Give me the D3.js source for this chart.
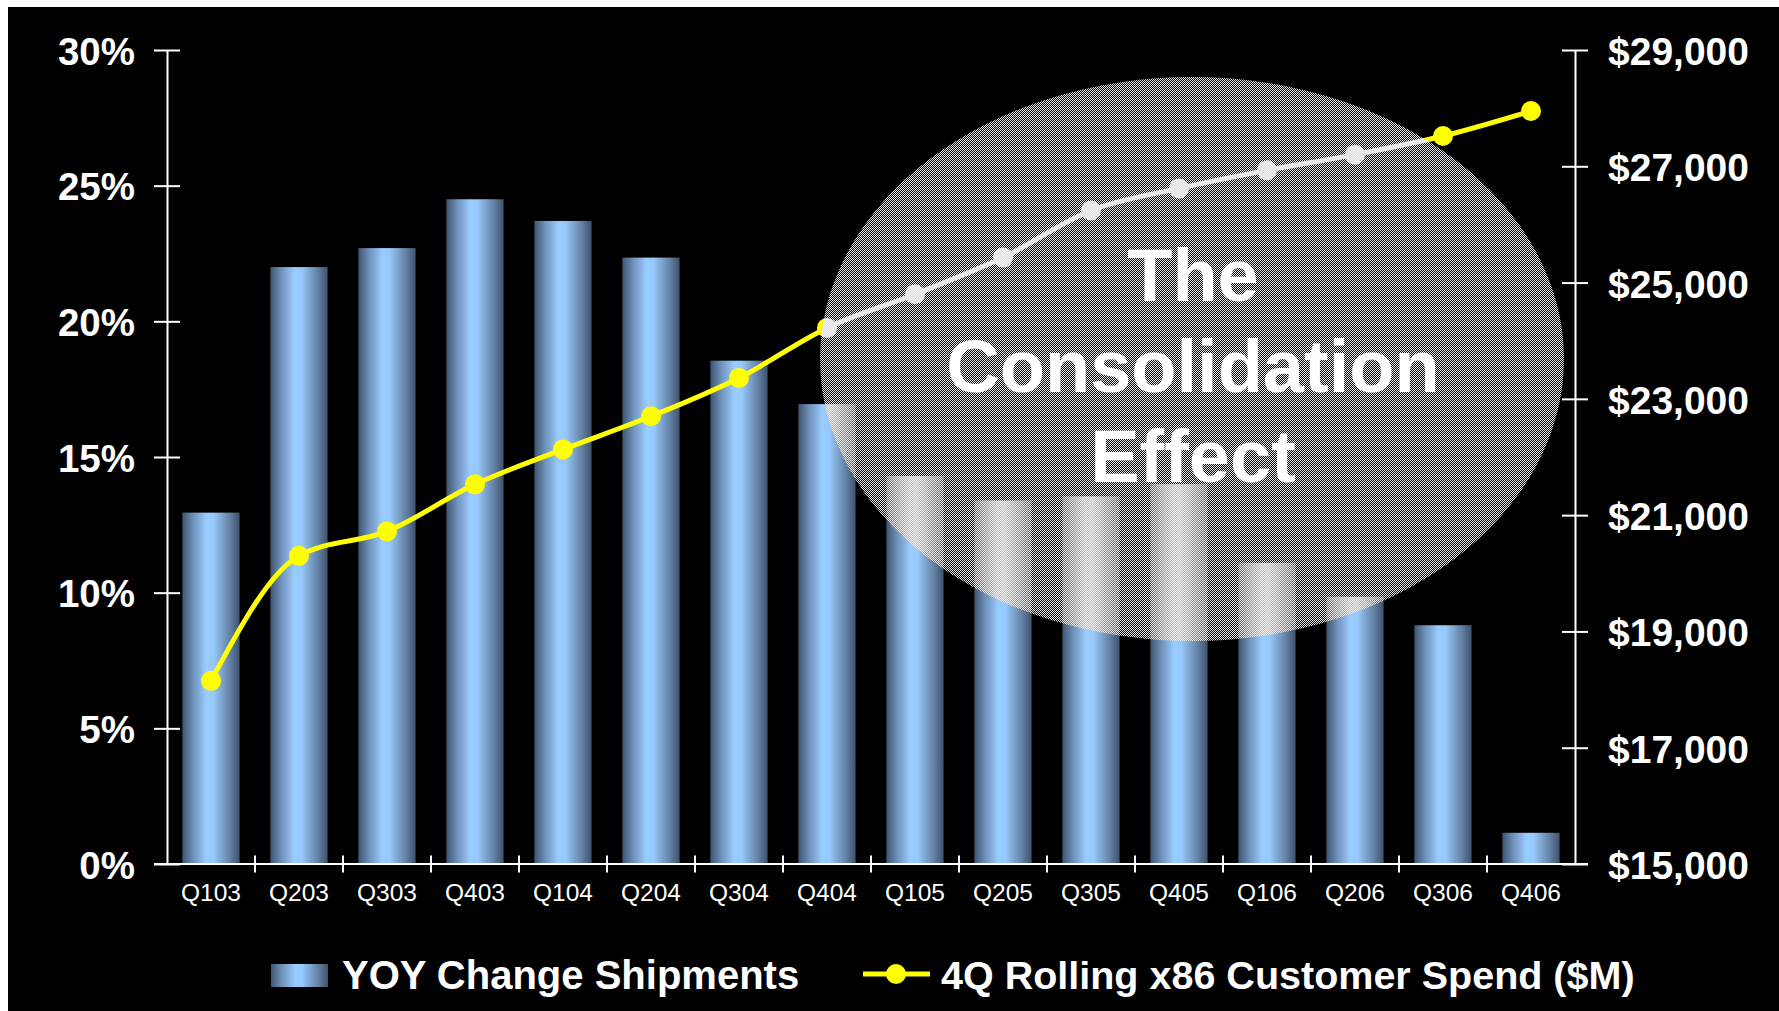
<!DOCTYPE html>
<meta charset="utf-8">
<title>The Consolidation Effect</title>
<script src="https://d3js.org/d3.v7.min.js"></script>
<style>
    body { margin: 0; background: #fff; }
    text { font-family: Arial, "Liberation Sans", sans-serif; fill: #fff; }
</style>
<body>
    <svg id="container" width="1779" height="1011"></svg>
</body>
<script>
    // quarters on the x axis
    let quarters = ["Q103", "Q203", "Q303", "Q403", "Q104", "Q204", "Q304", "Q404",
                    "Q105", "Q205", "Q305", "Q405", "Q106", "Q206", "Q306", "Q406"]

    // YOY change in shipments (%)
    let yoyShipments = [12.95, 22.0, 22.7, 24.5, 23.7, 22.35, 18.55, 16.95,
                        14.3, 13.4, 13.55, 14.0, 11.1, 9.85, 8.8, 1.15]

    // 4Q rolling x86 customer spend ($M)
    let rollingSpend = [18150, 20300, 20720, 21530, 22130, 22700, 23360, 24220,
                        24800, 25430, 26240, 26620, 26930, 27200, 27520, 27950]

    let pctTicks = [0, 5, 10, 15, 20, 25, 30]
    let spendTicks = [15000, 17000, 19000, 21000, 23000, 25000, 27000, 29000]

    let calloutLines = ["The", "Consolidation", "Effect"]
    let legendBar = "YOY Change Shipments"
    let legendLine = "4Q Rolling x86 Customer Spend ($M)"

    let svg = d3.select("#container")

    let plotLeft = 167, plotRight = 1575, plotTop = 50, plotBottom = 864

    svg.append("rect")
        .attr("x", 8).attr("y", 7)
        .attr("width", 1779 - 8).attr("height", 1011 - 7)
        .attr("fill", "#000")

    let defs = svg.append("defs")

    let grad = defs.append("linearGradient")
        .attr("id", "barGrad")
        .attr("x1", "0%").attr("x2", "100%").attr("y1", "0%").attr("y2", "0%")
    grad.append("stop").attr("offset", "0%").attr("stop-color", "#3f5572")
    grad.append("stop").attr("offset", "18%").attr("stop-color", "#6d8fb6")
    grad.append("stop").attr("offset", "42%").attr("stop-color", "#99ccff")
    grad.append("stop").attr("offset", "55%").attr("stop-color", "#96c8fa")
    grad.append("stop").attr("offset", "82%").attr("stop-color", "#6683a6")
    grad.append("stop").attr("offset", "100%").attr("stop-color", "#3d526c")

    // 1px checker dither for the callout
    let pat = defs.append("pattern")
        .attr("id", "dither")
        .attr("patternUnits", "userSpaceOnUse")
        .attr("x", 0).attr("y", 0)
        .attr("width", 2).attr("height", 2)
    pat.append("rect").attr("x", 0).attr("y", 0).attr("width", 1).attr("height", 1)
        .attr("fill", "#eeeeee").attr("shape-rendering", "crispEdges")
    pat.append("rect").attr("x", 1).attr("y", 1).attr("width", 1).attr("height", 1)
        .attr("fill", "#eeeeee").attr("shape-rendering", "crispEdges")

    let x = d3.scaleBand()
        .domain(quarters)
        .range([plotLeft, plotRight])
        .paddingInner(0.35)
        .paddingOuter(0.175)

    let yPct = d3.scaleLinear().domain([0, 30]).range([plotBottom, plotTop])
    let ySpend = d3.scaleLinear().domain([15000, 29000]).range([plotBottom, plotTop])

    // bars
    svg.append("g").selectAll("rect")
        .data(yoyShipments)
        .enter()
        .append("rect")
        .attr("x", (d, i) => x(quarters[i]))
        .attr("y", d => yPct(d))
        .attr("width", x.bandwidth())
        .attr("height", d => plotBottom - yPct(d))
        .attr("fill", "url(#barGrad)")

    // axes
    let leftAxis = svg.append("g")
        .attr("transform", `translate(${plotLeft},0)`)
        .call(d3.axisLeft(yPct).tickValues(pctTicks).tickFormat(d => d + "%")
            .tickSize(13).tickSizeOuter(0).tickPadding(19))
    leftAxis.selectAll(".tick line").attr("x1", 13)

    let rightAxis = svg.append("g")
        .attr("transform", `translate(${plotRight},0)`)
        .call(d3.axisRight(ySpend).tickValues(spendTicks).tickFormat(d => "$" + d3.format(",")(d))
            .tickSize(13).tickSizeOuter(0).tickPadding(20))
    rightAxis.selectAll(".tick line").attr("x1", -13)

    let bottomAxis = svg.append("g")
        .attr("transform", `translate(0,${plotBottom})`)
        .call(d3.axisBottom(x).tickSize(0).tickSizeOuter(0).tickPadding(20))
    bottomAxis.select(".domain").attr("d", `M${plotLeft - 13},0H${plotRight + 13}`)

    // category boundary ticks
    bottomAxis.selectAll(".sep")
        .data(d3.range(1, quarters.length))
        .enter()
        .append("line")
        .attr("class", "sep")
        .attr("x1", i => plotLeft + i * x.step())
        .attr("x2", i => plotLeft + i * x.step())
        .attr("y1", -8.5).attr("y2", 8.5)
        .attr("stroke", "#fff")

    for (let g of [leftAxis, rightAxis, bottomAxis]) {
        g.select(".domain").attr("stroke", "#fff").attr("stroke-width", 2)
        g.selectAll("line").attr("stroke", "#fff").attr("stroke-width", 2)
        g.attr("font-family", null).attr("font-size", null)
    }
    leftAxis.selectAll(".tick text").attr("font-size", 38.5).attr("font-weight", "bold").attr("dy", "0.37em")
    rightAxis.selectAll(".tick text").attr("font-size", 39).attr("font-weight", "bold").attr("dy", "0.37em")
    bottomAxis.selectAll(".tick text").attr("font-size", 24.5).attr("dy", "0.71em")

    // rolling spend line
    let line = d3.line()
        .x((d, i) => x(quarters[i]) + x.bandwidth() / 2)
        .y(d => ySpend(d))
        .curve(d3.curveMonotoneX)

    svg.append("path")
        .datum(rollingSpend)
        .attr("d", line)
        .attr("fill", "none")
        .attr("stroke", "#ffff00")
        .attr("stroke-width", 5)

    svg.append("g").selectAll("circle")
        .data(rollingSpend)
        .enter()
        .append("circle")
        .attr("cx", (d, i) => x(quarters[i]) + x.bandwidth() / 2)
        .attr("cy", d => ySpend(d))
        .attr("r", 10)
        .attr("fill", "#ffff00")

    // callout ellipse
    svg.append("ellipse")
        .attr("cx", 1192).attr("cy", 359)
        .attr("rx", 372).attr("ry", 282)
        .attr("fill", "url(#dither)")

    svg.append("g").selectAll("text")
        .data(calloutLines)
        .enter()
        .append("text")
        .attr("x", 1193)
        .attr("y", (d, i) => 301 + i * 90.5)
        .attr("text-anchor", "middle")
        .attr("font-size", 74)
        .attr("font-weight", "bold")
        .text(d => d)

    // legend
    let legend = svg.append("g")
    legend.append("rect")
        .attr("x", 271).attr("y", 964)
        .attr("width", 57).attr("height", 23)
        .attr("fill", "url(#barGrad)")
    legend.append("text")
        .attr("x", 342).attr("y", 989)
        .attr("font-size", 40).attr("font-weight", "bold")
        .text(legendBar)

    legend.append("line")
        .attr("x1", 863).attr("x2", 930)
        .attr("y1", 974).attr("y2", 974)
        .attr("stroke", "#ffff00").attr("stroke-width", 5)
    legend.append("circle")
        .attr("cx", 896).attr("cy", 974).attr("r", 10)
        .attr("fill", "#ffff00")
    legend.append("text")
        .attr("x", 941).attr("y", 989)
        .attr("font-size", 39.5).attr("font-weight", "bold")
        .text(legendLine)
</script>
